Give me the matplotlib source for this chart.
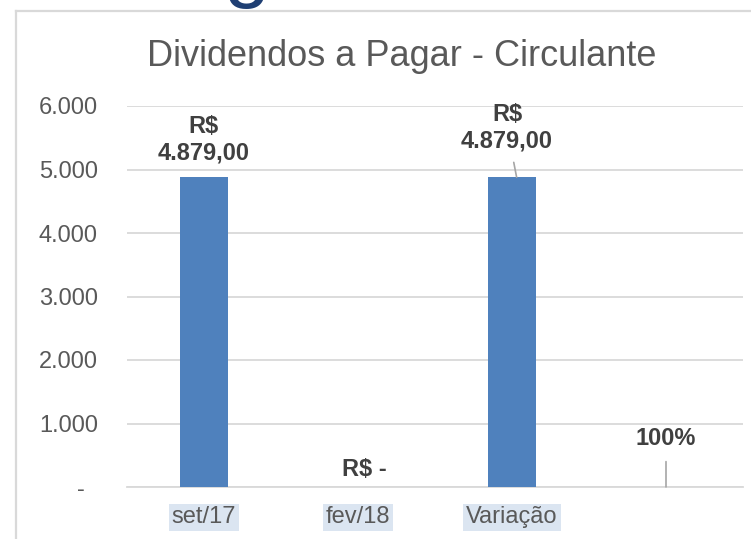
import numpy as np
import matplotlib
matplotlib.use('Agg')
import matplotlib.pyplot as plt
from matplotlib.lines import Line2D

plt.rcParams['font.family'] = ['Liberation Sans', 'DejaVu Sans']

# dados do grafico
categorias = ['set/17', 'fev/18', 'Variação', '']
valores = [4879, 0, 4879, 1]
rotulos = ['R$\n4.879,00', 'R$ -', 'R$\n4.879,00', '100%']
yticks = [0, 1000, 2000, 3000, 4000, 5000, 6000]
ytick_labels = ['-  ', '1.000', '2.000', '3.000', '4.000', '5.000', '6.000']

cor_barra = '#4f81bd'
cor_grade = '#d9d9d9'
cor_texto = '#595959'
cor_rotulo = '#404040'

fig = plt.figure(figsize=(7.51, 5.39), dpi=100)
ax = fig.add_axes([127/751, 1 - 487/539, 616/751, 381/539])

x = np.arange(len(categorias))
ax.bar(x, valores, width=0.31, color=cor_barra, zorder=3)

ax.set_xlim(-0.5, 3.5)
ax.set_ylim(0, 6000)
ax.set_yticks(yticks)
ax.set_yticklabels(ytick_labels)
ax.set_xticks(x)
ax.set_xticklabels(categorias)

ax.grid(axis='y', color=cor_grade, linewidth=1.3, zorder=0)
for s in ['top', 'right', 'left']:
    ax.spines[s].set_visible(False)
ax.spines['bottom'].set_color(cor_grade)
ax.spines['bottom'].set_linewidth(1.3)
ax.tick_params(axis='both', length=0, labelsize=17, colors=cor_texto)
ax.tick_params(axis='y', pad=21)
ax.tick_params(axis='x', pad=14)
for lab in ax.get_xticklabels():
    if lab.get_text():
        lab.set_bbox(dict(facecolor='#dbe5f1', edgecolor='none', pad=2))

# rotulos de dados
ax.text(x[0], 5465, rotulos[0], ha='center', va='center', fontsize=17,
        fontweight='bold', color=cor_rotulo)
ax.text(1.04, 283, rotulos[1], ha='center', va='center', fontsize=17,
        fontweight='bold', color=cor_rotulo)
ax.annotate(rotulos[2], xy=(x[2] + 0.03, valores[2]), xytext=(1.968, 5654),
            ha='center', va='center', fontsize=17, fontweight='bold', color=cor_rotulo,
            arrowprops=dict(arrowstyle='-', color='#a6a6a6', lw=1.2, shrinkA=5, shrinkB=0))
ax.annotate(rotulos[3], xy=(x[3], valores[3]), xytext=(x[3], 756),
            ha='center', va='center', fontsize=17, fontweight='bold', color=cor_rotulo,
            arrowprops=dict(arrowstyle='-', color='#a6a6a6', lw=1.2, shrinkA=6, shrinkB=0))

fig.text(402/751, 1 - 56/539, 'Dividendos a Pagar - Circulante', ha='center', va='center',
         fontsize=26, color=cor_texto)

# borda do grafico (cortada na direita e embaixo)
fig.add_artist(Line2D([16/751, 16/751], [0, 1 - 11/539], color=cor_grade, lw=1.6))
fig.add_artist(Line2D([16/751, 1], [1 - 11/539, 1 - 11/539], color=cor_grade, lw=1.6))

# pedaco do titulo do slide que aparece no topo
fig.text(247/751, 1 + 8/539, 'g', ha='center', va='baseline', fontsize=60,
         color='#1f3f73')

fig.savefig('out.png', dpi=100)
